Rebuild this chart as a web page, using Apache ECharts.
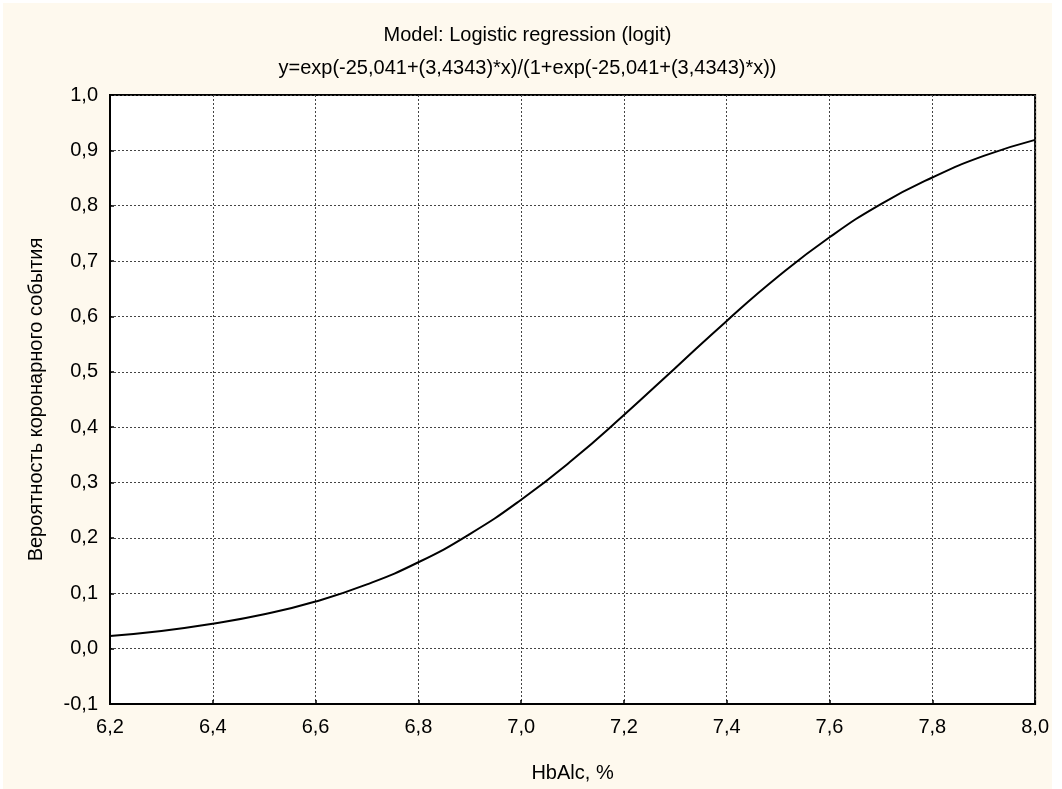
<!DOCTYPE html>
<html><head><meta charset="utf-8">
<script src="https://cdn.jsdelivr.net/npm/echarts@6/dist/echarts.min.js"></script>
<style>
html,body{margin:0;padding:0;background:#ffffff;}
#c{position:absolute;left:3px;top:3px;width:1049px;height:786px;}
</style></head>
<body><div id="c"></div>
<script>
const titleLine1 = "Model: Logistic regression (logit)";
const titleLine2 = "y=exp(-25,041+(3,4343)*x)/(1+exp(-25,041+(3,4343)*x))";
const xName = "HbAlc, %";
const yName = "Вероятность коронарного события";
const xValues = [6.2,6.3,6.4,6.5,6.6,6.7,6.8,6.9,7.0,7.1,7.2,7.3,7.4,7.5,7.6,7.7,7.8,7.9,8.0];
const yValues = [0.023,0.032,0.045,0.062,0.085,0.116,0.156,0.207,0.269,0.341,0.422,0.507,0.592,0.672,0.743,0.803,0.851,0.890,0.919];

const chart = echarts.init(document.getElementById('c'));
const fmt = v => v.toFixed(1).replace('.', ',');
const font = '"Liberation Sans", Arial, sans-serif';
const fs = 20;
chart.setOption({
  backgroundColor: '#fef9ee',
  animation: false,
  title: {
    text: titleLine1 + '\n' + titleLine2,
    left: 'center', top: 11,
    textStyle: {fontFamily: font, fontSize: fs, fontWeight: 'normal', color: '#000', lineHeight: 33}
  },
  grid: {left: 107, top: 92, right: 12, bottom: 85, show: true, backgroundColor: '#ffffff', borderColor: '#000', borderWidth: 2},
  xAxis: {
    type: 'value', min: 6.2, max: 8.0, interval: 0.2,
    name: xName, nameLocation: 'middle', nameGap: 59,
    nameTextStyle: {fontFamily: font, fontSize: fs, color: '#000'},
    axisLine: {show: true, onZero: false, lineStyle: {color: '#000', width: 2}},
    axisTick: {show: true, inside: true, length: 4, lineStyle: {color: '#000', width: 1.5}},
    axisLabel: {formatter: fmt, fontFamily: font, fontSize: fs, color: '#000', margin: 13},
    splitLine: {show: true, lineStyle: {color: '#444', width: 1, type: [2, 2]}}
  },
  yAxis: {
    type: 'value', min: -0.1, max: 1.0, interval: 0.1,
    name: yName, nameLocation: 'middle', nameGap: 64,
    nameTextStyle: {fontFamily: font, fontSize: fs, color: '#000'},
    axisLine: {show: true, onZero: false, lineStyle: {color: '#000', width: 2}},
    axisTick: {show: true, inside: true, length: 4, lineStyle: {color: '#000', width: 1.5}},
    axisLabel: {formatter: fmt, fontFamily: font, fontSize: fs, color: '#000', margin: 12},
    splitLine: {show: true, lineStyle: {color: '#444', width: 1, type: [2, 2]}}
  },
  series: [{
    type: 'line',
    data: xValues.map((x, i) => [x, yValues[i]]),
    smooth: true,
    showSymbol: false,
    lineStyle: {color: '#000', width: 2}
  }]
});
</script></body></html>
